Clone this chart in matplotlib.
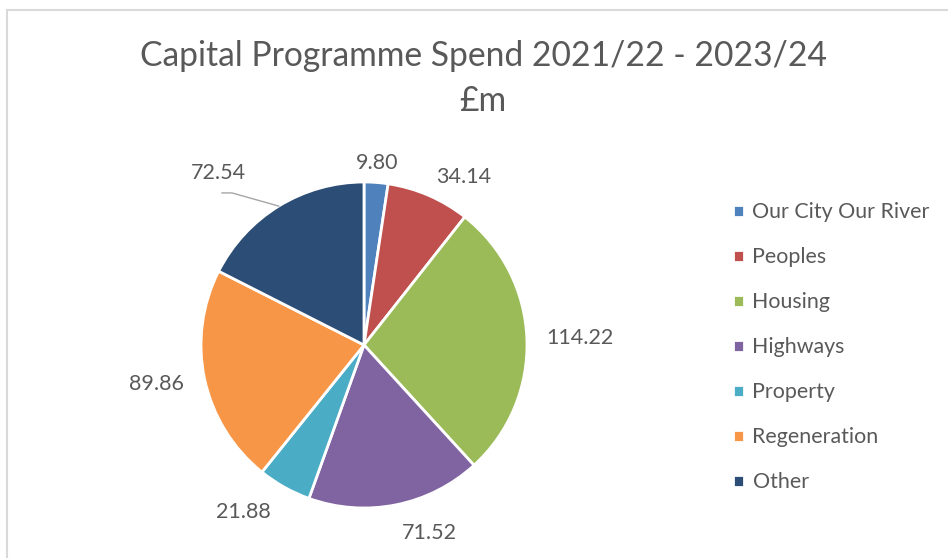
import numpy as np
import matplotlib.pyplot as plt
from matplotlib.patches import Rectangle

plt.rcParams['font.family'] = ['Lato', 'DejaVu Sans']

# Capital programme spend by area, £m
areas = ['Our City Our River', 'Peoples', 'Housing', 'Highways',
         'Property', 'Regeneration', 'Other']
spend = [9.80, 34.14, 114.22, 71.52, 21.88, 89.86, 72.54]
colours = ['#4F81BD', '#C0504D', '#9BBB59', '#8064A2',
           '#4BACC6', '#F79646', '#2C4D75']
text_col = '#595959'

W, H = 948, 558
fig = plt.figure(figsize=(W / 100, H / 100), dpi=100)

# chart frame (only top and left edges fall inside the image)
fig.patches.append(Rectangle((7 / W, -0.2), 1.2, 1.2 - 9.5 / H,
                             transform=fig.transFigure, fill=False,
                             ec='#D9D9D9', lw=1.5))

fig.text(483 / W, 1 - 56 / H, 'Capital Programme Spend 2021/22 - 2023/24',
         ha='center', va='center', fontsize=24.2, color=text_col)
fig.text(483 / W, 1 - 101 / H, '£m', ha='center', va='center',
         fontsize=24.2, color=text_col)

cx, cy, r = 364, 345, 163
ax = fig.add_axes([(cx - r) / W, (H - cy - r) / H, 2 * r / W, 2 * r / H])
labels = [f'{v:.2f}' for v in spend]
wedges, texts = ax.pie(spend, colors=colours, startangle=90, counterclock=False,
                       labels=labels, labeldistance=1.12,
                       wedgeprops=dict(edgecolor='white', linewidth=2),
                       textprops=dict(fontsize=15.5, color=text_col))
ax.set_xlim(-1, 1)
ax.set_ylim(-1, 1)
ax.set_aspect('equal')

# push the lower labels a little further out
for w, t in zip(wedges, texts):
    a = np.deg2rad((w.theta1 + w.theta2) / 2)
    d = 1.12 + 0.06 * max(0.0, -np.sin(a))
    t.set_position((d * np.cos(a), d * np.sin(a)))
    if abs(np.cos(a)) < 0.1:
        t.set_ha('center')

# "Other" label sits up and to the left with a leader line
w = wedges[-1]
mid = np.deg2rad((w.theta1 + w.theta2) / 2)
texts[-1].set_position((-0.896, 1.055))
texts[-1].set_ha('center')
ax.plot([-0.871, -0.81, np.cos(mid)], [0.933, 0.933, np.sin(mid)],
        color='#A6A6A6', lw=1, clip_on=False)

fig.legend(wedges, areas, loc='upper left', bbox_to_anchor=(714 / W, 1 - 183 / H),
           frameon=False, fontsize=15.4, labelcolor=text_col,
           handlelength=0.5, handleheight=0.5, handletextpad=0.4,
           labelspacing=1.17)

fig.savefig('out.png', dpi=100)
